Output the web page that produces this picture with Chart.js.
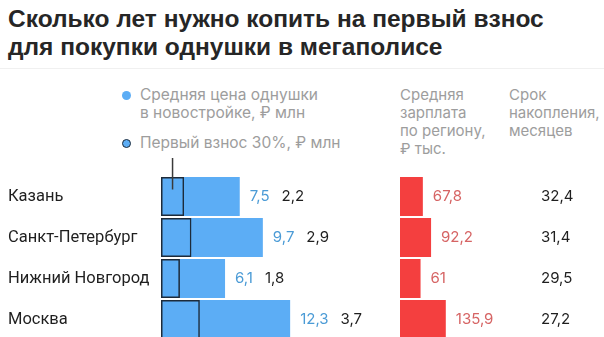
<!DOCTYPE html>
<html lang="ru">
<head>
<meta charset="utf-8">
<script src="https://cdn.jsdelivr.net/npm/chart.js@4.4.1/dist/chart.umd.min.js"></script>
<style>
  html, body { margin: 0; padding: 0; width: 604px; height: 337px; overflow: hidden; background: #fff; }
  body { position: relative; font-family: Inter, 'Noto Sans', sans-serif; }
  .title { position: absolute; left: 8px; top: 5px; font: bold 24.5px 'Liberation Sans', Arial, sans-serif; line-height: 28px; color: #262626; white-space: nowrap; }
  .rule { position: absolute; left: 0; top: 68px; width: 604px; height: 1px; background: #f0f0f0; }
  .note { position: absolute; font-size: 15px; line-height: 18px; color: #9d9d9d; white-space: nowrap; }
  .note.legend { font-size: 15.5px; }
  .dot { position: absolute; width: 9px; height: 9px; border-radius: 50%; background: #5cadf5; box-sizing: border-box; }
  .dot.outline { border: 1.5px solid #1d2b3a; }
  canvas { position: absolute; left: 0; top: 0; }
</style>
</head>
<body>
<div class="title">Сколько лет нужно копить на первый взнос<br>для покупки однушки в мегаполисе</div>
<div class="rule"></div>

<div class="dot" style="left:122px; top:91px;"></div>
<div class="note legend" style="left:140px; top:86px;">Средняя цена однушки<br>в новостройке, ₽ млн</div>
<div class="dot outline" style="left:122px; top:139px;"></div>
<div class="note legend" style="left:140px; top:134px;">Первый взнос 30%, ₽ млн</div>

<div class="note" style="left:400px; top:86px;">Средняя<br>зарплата<br>по региону,<br>₽ тыс.</div>
<div class="note" style="left:509px; top:86px;">Срок<br>накопления,<br>месяцев</div>

<canvas id="priceChart" width="604" height="350"></canvas>
<canvas id="salaryChart" width="604" height="350"></canvas>

<script>
// данные
const cities = ['Казань', 'Санкт-Петербург', 'Нижний Новгород', 'Москва'];
const avgPrice = [7.5, 9.7, 6.1, 12.3];       // ₽ млн
const downPayment = [2.2, 2.9, 1.8, 3.7];     // 30%, ₽ млн
const salary = [67.8, 92.2, 61, 135.9];       // ₽ тыс.
const months = [32.4, 31.4, 29.5, 27.2];

const fmt = v => String(v).replace('.', ',');
const textFont = '15px Inter, "Noto Sans", sans-serif';
const cityFont = '16.5px Roboto, "Noto Sans", sans-serif';

// подписи для левой части: города, цена, взнос, линия к легенде
const priceLabels = {
  id: 'priceLabels',
  afterDatasetsDraw(chart) {
    const { ctx } = chart;
    const x = chart.scales.x, y = chart.scales.y;
    ctx.save();
    ctx.textBaseline = 'middle';
    ctx.textAlign = 'left';
    cities.forEach((c, i) => {
      const cy = y.getPixelForValue(i);
      ctx.font = cityFont;
      ctx.fillStyle = '#1f1f1f';
      ctx.fillText(c, 8, cy);
      ctx.font = textFont;
      const px = x.getPixelForValue(avgPrice[i]) + 10;
      const t1 = fmt(avgPrice[i]);
      ctx.fillStyle = '#4b9bd6';
      ctx.fillText(t1, px, cy);
      ctx.fillStyle = '#1f1f1f';
      ctx.fillText(fmt(downPayment[i]), px + ctx.measureText(t1).width + 12, cy);
    });
    const lx = x.getPixelForValue(downPayment[0] / 2);
    ctx.strokeStyle = '#3a3a3a';
    ctx.lineWidth = 1.5;
    ctx.beginPath();
    ctx.moveTo(lx, 158);
    ctx.lineTo(lx, y.getPixelForValue(0) - 7);
    ctx.stroke();
    ctx.restore();
  }
};

// подписи для правой части: зарплата и срок
const salaryLabels = {
  id: 'salaryLabels',
  afterDatasetsDraw(chart) {
    const { ctx } = chart;
    const x = chart.scales.x, y = chart.scales.y;
    ctx.save();
    ctx.font = textFont;
    ctx.textBaseline = 'middle';
    ctx.textAlign = 'left';
    salary.forEach((v, i) => {
      const cy = y.getPixelForValue(i);
      ctx.fillStyle = '#d66464';
      ctx.fillText(fmt(v), x.getPixelForValue(v) + 10, cy);
      ctx.fillStyle = '#1f1f1f';
      ctx.fillText(fmt(months[i]), 541, cy);
    });
    ctx.restore();
  }
};

const baseOptions = (padding, max) => ({
  indexAxis: 'y',
  responsive: false,
  animation: false,
  layout: { padding },
  datasets: { bar: { grouped: false, categoryPercentage: 1, barPercentage: 0.95 } },
  scales: {
    x: { display: false, min: 0, max },
    y: { display: false }
  },
  plugins: { legend: { display: false }, tooltip: { enabled: false } }
});

new Chart(document.getElementById('priceChart'), {
  type: 'bar',
  data: {
    labels: cities,
    datasets: [
      {
        label: 'Первый взнос 30%, ₽ млн',
        data: downPayment,
        backgroundColor: 'rgba(0,0,0,0)',
        borderColor: '#1d2b3a',
        borderWidth: 1.5,
        borderSkipped: false,
        order: 0
      },
      {
        label: 'Средняя цена однушки в новостройке, ₽ млн',
        data: avgPrice,
        backgroundColor: '#5cadf5',
        order: 1
      }
    ]
  },
  options: baseOptions({ left: 161, right: 233, top: 176, bottom: 10 }, 20),
  plugins: [priceLabels]
});

new Chart(document.getElementById('salaryChart'), {
  type: 'bar',
  data: {
    labels: cities,
    datasets: [{
      label: 'Средняя зарплата по региону, ₽ тыс.',
      data: salary,
      backgroundColor: '#f43f3f'
    }]
  },
  options: baseOptions({ left: 400, right: 136.6, top: 176, bottom: 10 }, 200),
  plugins: [salaryLabels]
});
</script>
</body>
</html>
